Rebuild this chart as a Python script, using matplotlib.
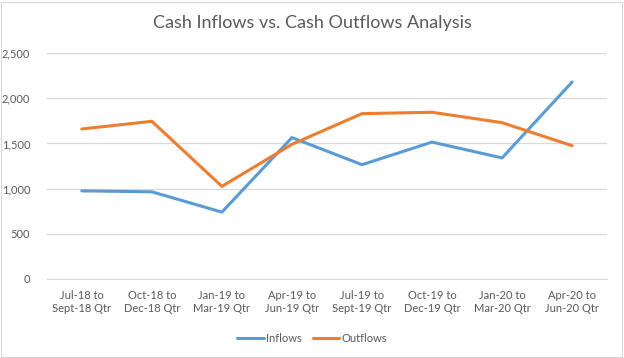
import matplotlib

matplotlib.use("Agg")
import matplotlib.pyplot as plt
from matplotlib.patches import Rectangle

plt.rcParams["font.family"] = ["Lato", "DejaVu Sans"]

quarters = [
    "Jul-18 to\nSept-18 Qtr",
    "Oct-18 to\nDec-18 Qtr",
    "Jan-19 to\nMar-19 Qtr",
    "Apr-19 to\nJun-19 Qtr",
    "Jul-19 to\nSept-19 Qtr",
    "Oct-19 to\nDec-19 Qtr",
    "Jan-20 to\nMar-20 Qtr",
    "Apr-20 to\nJun-20 Qtr",
]
inflows = [975, 965, 740, 1565, 1265, 1515, 1340, 2180]
outflows = [1660, 1745, 1025, 1490, 1830, 1845, 1730, 1475]
y_ticks = [0, 500, 1000, 1500, 2000, 2500]

text_color = "#595959"
grid_color = "#d9d9d9"

fig = plt.figure(figsize=(6.24, 3.58), dpi=100)
fig.patches.append(Rectangle((0.002, 0.004), 0.994, 0.99, transform=fig.transFigure,
                             fill=False, edgecolor="#d9d9d9", linewidth=0.8))
ax = fig.add_axes([0.075, 0.2207, 0.898, 0.631])

x = range(len(quarters))
ax.plot(x, inflows, color="#5b9bd5", linewidth=2.2, label="Inflows", solid_capstyle="round")
ax.plot(x, outflows, color="#ed7d31", linewidth=2.2, label="Outflows", solid_capstyle="round")

ax.set_xlim(-0.5, len(quarters) - 0.5)
ax.set_ylim(0, 2500)
ax.set_yticks(y_ticks)
ax.set_yticklabels([f"{v:,}" for v in y_ticks])
ax.set_xticks(list(x))
ax.set_xticklabels(quarters)
ax.yaxis.grid(True, color=grid_color, linewidth=0.9)
ax.set_axisbelow(True)
for side in ["top", "right", "left"]:
    ax.spines[side].set_visible(False)
ax.spines["bottom"].set_color(grid_color)
ax.tick_params(axis="both", length=0, labelsize=8, labelcolor=text_color)
ax.tick_params(axis="x", pad=8)
ax.tick_params(axis="y", pad=12)

fig.text(0.5, 0.935, "Cash Inflows vs. Cash Outflows Analysis", ha="center", va="center",
         fontsize=13, color=text_color)
fig.legend(loc="center", bbox_to_anchor=(0.5, 0.055), ncol=2, frameon=False,
           fontsize=8, labelcolor=text_color, handlelength=2.4, handletextpad=0.2,
           columnspacing=1.0)

fig.savefig("out.png", dpi=100)
